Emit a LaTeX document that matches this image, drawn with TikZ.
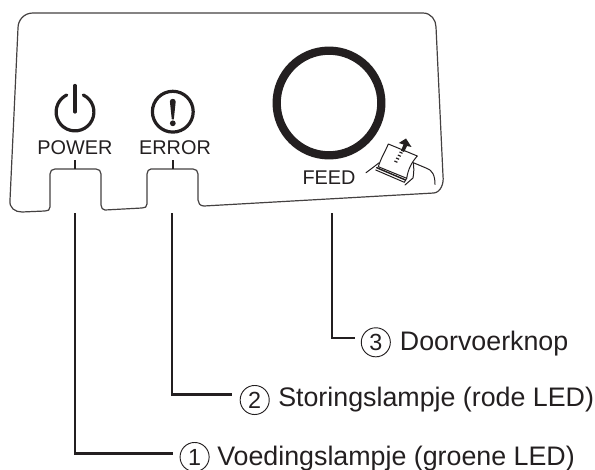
\documentclass[tikz,border=0pt]{standalone}
\usepackage{fontspec}
\setmainfont{Liberation Sans}
\definecolor{ink}{HTML}{231F20}
\newcommand{\fontpanel}{\fontsize{14.9}{16}\selectfont}
\newcommand{\fontlabel}{\fontsize{20.1}{23}\selectfont}
\newcommand{\fontnum}{\fontsize{17.5}{19}\selectfont}
\tikzset{
  panel/.style={draw=ink!85,line width=.9pt,line join=round},
  leader/.style={draw=ink,line width=1.8pt,line join=miter},
  tick/.style={draw=ink,line width=1.6pt},
  icon/.style={draw=ink,line width=2.4pt},
  panellabel/.style={text=ink,font=\fontpanel,inner sep=0pt,anchor=base},
  calloutlabel/.style={text=ink,font=\fontlabel,inner sep=0pt,anchor=base west},
  numcircle/.style={circle,draw=ink,line width=.7pt,text=ink,font=\fontnum,minimum size=21.8pt,inner sep=0pt},
  printerline/.style={draw=ink,line width=.75pt,line join=round,line cap=round},
  stripe/.style={draw=ink,line width=.9pt},
}
\begin{document}
\begin{tikzpicture}[x=.75pt,y=-.75pt]
\useasboundingbox (0,0) rectangle (595,470);
% panel outline
\draw[panel] (33,13) -- (423,13) .. controls (431,13) and (436,20) .. (436,27)
  -- (443,176) .. controls (444,183) and (441,192) .. (434,193)
  -- (204,206) .. controls (200,206) and (198,203) .. (198,200)
  -- (198,174) .. controls (198,171) and (196,169) .. (193,169)
  -- (151,169) .. controls (149,169) and (147,171) .. (147,174)
  -- (147,204) .. controls (147,207) and (145,208) .. (142,208)
  -- (105,210) .. controls (103,210) and (101,208) .. (101,205)
  -- (101,174) .. controls (101,171) and (99,169) .. (96,169)
  -- (55,169) .. controls (52,169) and (50,171) .. (50,174)
  -- (50,207) .. controls (50,210) and (48,211) .. (45,211)
  -- (22,212) .. controls (15,212) and (9,208) .. (10,200)
  -- (18,28) .. controls (18,20) and (24,13) .. (33,13) -- cycle;
% feed button
\node[circle,draw=ink,line width=6.2pt,minimum size=78.5pt,inner sep=0pt] (feedbtn) at (329,103) {};
\node[panellabel] (feedlbl) at (329,185) {FEED};
% power icon
\node[panellabel] (powerlbl) at (75,155) {POWER};
\coordinate (powerc) at (75,112);
\coordinate (powertop) at (75,85.5);
\draw[icon,line cap=round] (83.3,95) arc[start angle=-64,end angle=244,radius=18.9];
\draw[draw=ink,line width=2.4pt,line cap=round] (powertop) -- (powerc);
% error icon
\node[panellabel] (errorlbl) at (175,155) {ERROR};
\node[circle,draw=ink,line width=2.4pt,minimum size=30.6pt,inner sep=0pt] (errorc) at (172.8,111.7) {};
\fill[ink] (169.9,101.5) .. controls (169.9,98) and (175.7,98) .. (175.7,101.5) -- (173.8,119.5) -- (171.8,119.5) -- cycle;
\fill[ink] (172.8,123.3) circle[radius=2.9];
% printer icon
\draw[printerline,fill=white] (388.3,144) .. controls (385,152) and (381,158) .. (378.3,166.7)
  -- (406.7,178.3) .. controls (408,170) and (411,163) .. (417.3,156) -- cycle;
\draw[printerline] (366,172.7) -- (379.3,162.7);
\draw[printerline,line width=1.1pt] (376.7,167.7) -- (405.5,180);
\draw[printerline] (375.7,170) -- (404.3,182.3) -- (406.7,178.3);
\draw[printerline] (405,185) -- (413,178) .. controls (414,172) and (414,168) .. (413.3,162.7)
  -- (426.7,168.3) .. controls (432,170) and (435,175) .. (435,184.3);
\fill[ink] (406,138.5) -- (411.5,147) -- (407,146) -- (404,152) -- (401,150.7) -- (403.5,144.5) -- (398.8,143) -- cycle;
\draw[stripe] (399.5,152) -- (402.5,153.3);
\draw[stripe] (397.8,155) -- (400.8,156.3);
\draw[stripe] (396.1,158) -- (399.1,159.3);
\draw[stripe] (394.4,161) -- (397.4,162.3);
% ticks
\coordinate (powerslotT) at (75,169);
\coordinate (errorslotT) at (173,169);
\coordinate (powertickT) at (75,160.5);
\coordinate (errortickT) at (173,160.5);
\draw[tick] (powertickT) -- (powerslotT);
\draw[tick] (errortickT) -- (errorslotT);
% callouts
\node[numcircle] (n3) at (375.8,342.3) {3};
\node[calloutlabel] (t3) at (399.7,350.3) {Doorvoerknop};
\node[numcircle] (n2) at (254.7,400) {2};
\node[calloutlabel] (t2) at (278,406.7) {Storingslampje (rode LED)};
\node[numcircle] (n1) at (194.6,457) {1};
\node[calloutlabel] (t1) at (217,465) {Voedingslampje (groene LED)};
% leaders
\coordinate (s3) at (332,213);
\coordinate (s2) at (172,213);
\coordinate (s1) at (75,213);
\coordinate (e3) at (355,338);
\coordinate (e2) at (232,394.5);
\coordinate (e1) at (173,453.5);
\draw[leader] (s3) |- (e3);
\draw[leader] (s2) |- (e2);
\draw[leader] (s1) |- (e1);
\end{tikzpicture}
\end{document}
